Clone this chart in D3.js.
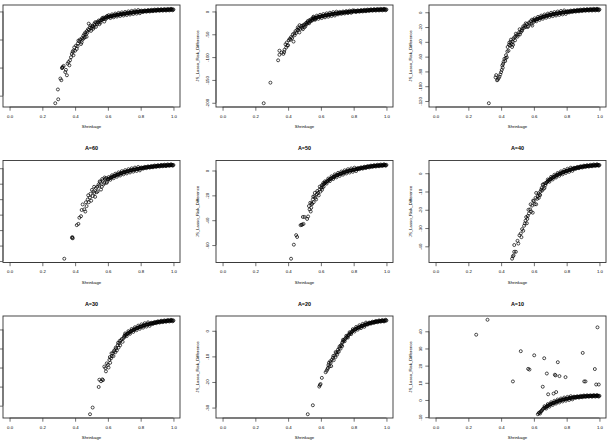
<!DOCTYPE html>
<html lang="en">
<head>
<meta charset="UTF-8">
<title>JS vs Lasso risk difference</title>
<script src="https://cdn.jsdelivr.net/npm/d3@7"></script>
<style>
  body { margin: 0; background: #fff; }
  svg { display: block; font-family: "Liberation Sans", Arial, Helvetica, sans-serif; }
</style>
</head>
<body>
<svg id="canvas"></svg>
<script>
// [shrinkage, JS_Lasso_Risk_Difference]
let ptsA90 = [
  [0.279,-163.5],[0.297,-156.5],[0.295,-139],[0.31,-119.5],[0.316,-122.5],[0.32,-101],[0.322,-100],[0.324,-99],[0.33,-97],
  [0.34,-108],[0.344,-104],[0.35,-113.7],[0.354,-93],[0.365,-96],[0.369,-87],[0.375,-81.5],[0.38,-75.6],[0.389,-69.7],
  [0.395,-64],[0.40,-70],[0.405,-61],[0.41,-66.8],[0.417,-57],[0.426,-53],[0.43,-50],[0.436,-58],[0.44,-55],[0.442,-47.5],
  [0.45,-43.4],[0.456,-40.4],[0.46,-46],[0.462,-37.5],[0.47,-45],[0.475,-38],[0.479,-31.6],[0.483,-21.7],[0.49,-28.7],
  [0.497,-34.6],[0.5,-30],[0.507,-25.8],[0.51,-31],[0.517,-21.7],[0.52,-24],[0.527,-27.5],[0.53,-20],[0.538,-18.2],
  [0.545,-16],[0.548,-22.8],[0.555,-20],[0.558,-15.8],[0.565,-12],[0.568,-14],[0.575,-13],[0.578,-18],[0.585,-14],
  [0.589,-10],[0.595,-8],
  [0.36,-90],[0.385,-72],[0.39,-78],[0.415,-62],[0.42,-52],[0.445,-50],[0.452,-48],[0.465,-41],[0.472,-35],[0.485,-33],
  [0.493,-25],[0.503,-27],[0.513,-28],[0.523,-19],[0.533,-23],[0.542,-20],[0.552,-17],[0.562,-15],[0.572,-11],[0.582,-11],
  [0.592,-12],
  [0.60,-10],[0.61,-9.2],[0.62,-8.5],[0.63,-7.8],[0.64,-7.1],[0.65,-6.4],[0.66,-5.9],[0.67,-5.4],[0.68,-4.9],[0.69,-4.5],
  [0.70,-4.1],[0.71,-3.6],[0.72,-3.1],[0.73,-2.7],[0.74,-2.2],[0.75,-1.8],[0.76,-1.4],[0.77,-1.0],[0.78,-0.7],[0.79,-0.3],
  [0.80,0],[0.81,0.2],[0.82,0.5],[0.83,0.7],[0.84,1.0],[0.85,1.2],[0.86,1.4],[0.87,1.7],[0.88,1.9],[0.89,2.1],
  [0.90,2.3],[0.91,2.4],[0.92,2.5],[0.93,2.7],[0.94,2.8],[0.95,2.9],[0.96,3.0],[0.97,3.1],[0.98,3.3],[0.99,3.4],[1.00,3.5],
  [0.605,-6.6],[0.615,-11.8],[0.625,-5.2],[0.635,-10.4],[0.645,-3.8],[0.655,-9.1],[0.665,-2.6],[0.675,-8.1],[0.685,-1.7],
  [0.695,-7.3],[0.705,-0.9],[0.715,-6.4],[0.725,0.1],[0.735,-5.5],[0.745,1.0],[0.755,-4.6],[0.765,1.8],[0.775,-3.9],
  [0.785,2.5],[0.795,-3.2],
  [0.805,1.5],[0.815,-1.05],[0.825,2.0],[0.835,-0.55],[0.845,2.5],[0.855,-0.1],[0.865,2.95],[0.875,0.4],[0.885,3.4],
  [0.895,0.8],[0.905,3.75],[0.915,1.05],[0.925,4.0],[0.935,1.35],[0.945,4.25],[0.955,1.55],[0.965,4.45],[0.975,1.8],
  [0.985,4.75],[0.995,2.05],
  [0.605,-9.6],[0.615,-8.8],[0.625,-8.1],[0.635,-7.4],[0.645,-6.7],[0.655,-6.1],[0.665,-5.6],[0.675,-5.1],[0.685,-4.7],
  [0.695,-4.3],[0.705,-3.8],[0.715,-3.3],[0.725,-2.9],[0.735,-2.4],[0.745,-2.0],[0.755,-1.6],[0.765,-1.2],[0.775,-0.8],
  [0.785,-0.5],[0.795,-0.1],[0.805,0.1],[0.815,0.3],[0.825,0.6],[0.835,0.8],[0.845,1.1],[0.855,1.3],[0.865,1.5],
  [0.875,1.8],[0.885,2.0],[0.895,2.2],[0.905,2.3],[0.915,2.5],[0.925,2.6],[0.935,2.7],[0.945,2.8],[0.955,2.9],
  [0.965,3.0],[0.975,3.2],[0.985,3.3],[0.995,3.4]
]
let ptsA80 = [
  [0.251,-201],[0.292,-156],[0.339,-107],[0.347,-95],[0.347,-86],[0.371,-93],[0.376,-89],[0.378,-84],[0.388,-79],[0.384,-72],
  [0.392,-68],[0.40,-74],[0.404,-63],[0.41,-60],[0.418,-56],[0.425,-58],[0.433,-66],[0.429,-50],[0.44,-52],[0.445,-43],
  [0.45,-47],[0.459,-35],[0.462,-41],[0.469,-46],[0.475,-38],[0.48,-32],[0.485,-36],[0.49,-39],[0.495,-30],[0.50,-28],
  [0.505,-33],[0.51,-25],[0.515,-27],[0.52,-21],[0.525,-24],[0.53,-19],[0.535,-22],[0.54,-17],[0.545,-20],
  [0.36,-90],[0.395,-75],[0.415,-62],[0.438,-48],[0.455,-40],[0.465,-37],[0.47,-30],[0.488,-31],[0.498,-35],[0.508,-29],
  [0.518,-24],[0.528,-26],[0.538,-20],[0.548,-19],[0.553,-13],[0.563,-17],
  [0.55,-16],[0.56,-14.8],[0.57,-13.7],[0.58,-12.7],[0.59,-11.8],[0.60,-10.9],[0.61,-10.1],[0.62,-9.3],[0.63,-8.5],
  [0.64,-7.8],[0.65,-7.1],[0.66,-6.4],[0.67,-5.8],[0.68,-5.2],[0.69,-4.6],[0.70,-4.1],[0.71,-3.6],[0.72,-3.1],[0.73,-2.6],
  [0.74,-2.2],[0.75,-1.8],[0.76,-1.4],[0.77,-1.0],[0.78,-0.6],[0.79,-0.3],[0.80,0],[0.81,0.3],[0.82,0.6],[0.83,0.9],
  [0.84,1.2],[0.85,1.5],[0.86,1.8],[0.87,2.0],[0.88,2.3],[0.89,2.6],[0.90,2.9],[0.91,3.1],[0.92,3.3],[0.93,3.5],
  [0.94,3.6],[0.95,3.8],[0.96,3.9],[0.97,4.0],[0.98,4.1],[0.99,4.2],[1.00,4.3],
  [0.555,-11.4],[0.565,-18.2],[0.575,-9.2],[0.585,-16.2],[0.595,-7.3],[0.605,-14.5],[0.615,-5.7],[0.625,-12.9],
  [0.635,-4.2],[0.645,-11.5],[0.655,-2.8],[0.665,-10.1],[0.675,-1.5],[0.685,-8.9],[0.695,-0.4],[0.705,-6.4],
  [0.715,-0.9],[0.725,-5.4],[0.735,-0.1],[0.745,-4.5],[0.755,0.9],[0.765,-3.7],[0.775,1.7],[0.785,-3.0],[0.795,2.4],
  [0.805,1.85],[0.815,-1.25],[0.825,2.45],[0.835,-0.65],[0.845,3.05],[0.855,-0.05],[0.865,3.6],[0.875,0.45],[0.885,4.15],
  [0.895,1.05],[0.905,4.7],[0.915,1.5],[0.925,5.1],[0.935,1.85],[0.945,5.4],[0.955,2.15],[0.965,5.65],[0.975,2.35],
  [0.985,5.85],[0.995,2.55],
  [0.555,-15.4],[0.565,-14.2],[0.575,-13.2],[0.585,-12.2],[0.595,-11.3],[0.605,-10.5],[0.615,-9.7],[0.625,-8.9],
  [0.635,-8.1],[0.645,-7.4],[0.655,-6.7],[0.665,-6.1],[0.675,-5.5],[0.685,-4.9],[0.695,-4.3],[0.705,-3.8],[0.715,-3.3],
  [0.725,-2.8],[0.735,-2.4],[0.745,-2.0],[0.755,-1.6],[0.765,-1.2],[0.775,-0.8],[0.785,-0.4],[0.795,-0.1],[0.805,0.1],
  [0.815,0.4],[0.825,0.7],[0.835,1.0],[0.845,1.3],[0.855,1.6],[0.865,1.9],[0.875,2.1],[0.885,2.4],[0.895,2.7],
  [0.905,3.0],[0.915,3.2],[0.925,3.4],[0.935,3.5],[0.945,3.7],[0.955,3.8],[0.965,3.9],[0.975,4.0],[0.985,4.1],[0.995,4.2]
]
let ptsA70 = [
  [0.325,-123],[0.366,-88],[0.37,-85],[0.375,-92],[0.38,-91],[0.385,-89],[0.39,-87],[0.40,-81],[0.404,-78],[0.407,-72],
  [0.41,-75],[0.415,-67],[0.42,-63],[0.425,-66],[0.43,-58],[0.435,-61],[0.44,-47],[0.445,-52],[0.45,-41],[0.455,-45],
  [0.46,-37],[0.465,-43],[0.467,-47],[0.47,-40],[0.475,-36],[0.48,-34],[0.485,-38],[0.49,-29],[0.495,-31],[0.50,-33],
  [0.51,-27],[0.515,-30],[0.52,-27],[0.525,-24],[0.53,-22],[0.54,-21],[0.545,-18],[0.55,-20],[0.557,-16],[0.565,-19],
  [0.57,-14],[0.58,-12],[0.585,-16],[0.59,-18],[0.595,-11],[0.60,-13],
  [0.395,-84],[0.412,-70],[0.428,-62],[0.438,-53],[0.448,-44],[0.458,-40],[0.473,-44],[0.488,-33],[0.505,-30],[0.513,-23],
  [0.528,-25],[0.535,-19],[0.55,-15],[0.562,-20],[0.575,-15],[0.588,-10],
  [0.60,-11.2],[0.61,-10.2],[0.62,-9.2],[0.63,-8.3],[0.64,-7.4],[0.65,-6.6],[0.66,-5.9],[0.67,-5.2],[0.68,-4.6],[0.69,-4.0],
  [0.70,-3.5],[0.71,-3.0],[0.72,-2.5],[0.73,-2.1],[0.74,-1.7],[0.75,-1.3],[0.76,-0.9],[0.77,-0.6],[0.78,-0.2],[0.79,0.1],
  [0.80,0.4],[0.81,0.7],[0.82,1.0],[0.83,1.3],[0.84,1.5],[0.85,1.8],[0.86,2.0],[0.87,2.2],[0.88,2.4],[0.89,2.6],
  [0.90,2.8],[0.91,2.9],[0.92,3.1],[0.93,3.2],[0.94,3.3],[0.95,3.4],[0.96,3.5],[0.97,3.5],[0.98,3.6],[0.99,3.6],[1.00,3.7],
  [0.605,-8.2],[0.615,-12.2],[0.625,-6.25],[0.635,-10.35],[0.645,-4.5],[0.655,-8.75],[0.665,-3.05],[0.675,-7.4],
  [0.685,-1.8],[0.695,-6.25],[0.705,-0.75],[0.715,-5.25],[0.725,0.2],[0.735,-4.4],[0.745,1.0],[0.755,-3.6],
  [0.765,1.75],[0.775,-2.9],[0.785,2.45],[0.795,-2.25],
  [0.805,1.65],[0.815,-0.25],[0.825,2.25],[0.835,0.3],[0.845,2.75],[0.855,0.8],[0.865,3.2],[0.875,1.2],[0.885,3.6],
  [0.895,1.6],[0.905,3.95],[0.915,1.9],[0.925,4.25],[0.935,2.15],[0.945,4.45],[0.955,2.35],[0.965,4.6],[0.975,2.45],
  [0.985,4.7],[0.995,2.55],
  [0.605,-10.7],[0.615,-9.7],[0.625,-8.7],[0.635,-7.8],[0.645,-7.0],[0.655,-6.2],[0.665,-5.5],[0.675,-4.9],[0.685,-4.3],
  [0.695,-3.7],[0.705,-3.2],[0.715,-2.7],[0.725,-2.3],[0.735,-1.9],[0.745,-1.5],[0.755,-1.1],[0.765,-0.7],[0.775,-0.4],
  [0.785,0.0],[0.795,0.2],[0.805,0.5],[0.815,0.8],[0.825,1.1],[0.835,1.4],[0.845,1.6],[0.855,1.9],[0.865,2.1],
  [0.875,2.3],[0.885,2.5],[0.895,2.7],[0.905,2.8],[0.915,3.0],[0.925,3.1],[0.935,3.2],[0.945,3.3],[0.955,3.4],
  [0.965,3.5],[0.975,3.5],[0.985,3.6],[0.995,3.6]
]
let ptsA60 = [
  [0.334,-58.5],[0.381,-45],[0.383,-44.5],[0.386,-45.3],[0.41,-36.8],[0.42,-36],[0.426,-32],[0.436,-31],[0.446,-23.4],
  [0.456,-26.6],[0.462,-28],[0.47,-24.5],[0.477,-20.2],[0.483,-22],[0.49,-19],[0.498,-21],[0.507,-18],[0.512,-15],
  [0.517,-16],[0.522,-18.5],[0.527,-12.8],[0.532,-15.5],[0.538,-14.9],[0.543,-10.5],[0.548,-11.3],[0.553,-9],[0.558,-13.8],
  [0.563,-12],[0.568,-8],[0.573,-10.5],[0.578,-9.6],[0.583,-7],[0.589,-6.4],[0.595,-8.8],
  [0.44,-27],[0.466,-22],[0.48,-17.5],[0.494,-16.5],[0.503,-14],[0.516,-12],[0.535,-12],[0.55,-8.5],[0.565,-7],[0.58,-6],
  [0.592,-9.5],
  [0.60,-7.2],[0.61,-6.6],[0.62,-6.0],[0.63,-5.5],[0.64,-5.0],[0.65,-4.5],[0.66,-4.1],[0.67,-3.7],[0.68,-3.3],[0.69,-2.9],
  [0.70,-2.6],[0.71,-2.3],[0.72,-2.0],[0.73,-1.7],[0.74,-1.4],[0.75,-1.1],[0.76,-0.9],[0.77,-0.7],[0.78,-0.5],[0.79,-0.3],
  [0.80,-0.1],[0.81,0.1],[0.82,0.3],[0.83,0.5],[0.84,0.6],[0.85,0.8],[0.86,0.9],[0.87,1.0],[0.88,1.2],[0.89,1.3],
  [0.90,1.4],[0.91,1.5],[0.92,1.6],[0.93,1.7],[0.94,1.8],[0.95,1.8],[0.96,1.9],[0.97,2.0],[0.98,2.0],[0.99,2.1],[1.00,2.1],
  [0.605,-5.7],[0.615,-7.5],[0.625,-4.55],[0.635,-6.45],[0.645,-3.55],[0.655,-5.5],[0.665,-2.7],[0.675,-4.7],
  [0.685,-1.9],[0.695,-3.95],[0.705,-1.25],[0.715,-3.35],[0.725,-0.65],[0.735,-2.75],[0.745,-0.05],[0.755,-2.2],
  [0.765,0.4],[0.775,-1.8],[0.785,0.8],[0.795,-1.4],
  [0.805,0.5],[0.815,-0.3],[0.825,0.9],[0.835,0.05],[0.845,1.2],[0.855,0.35],[0.865,1.45],[0.875,0.6],[0.885,1.75],
  [0.895,0.85],[0.905,1.95],[0.915,1.05],[0.925,2.15],[0.935,1.25],[0.945,2.3],[0.955,1.35],[0.965,2.45],[0.975,1.5],
  [0.985,2.55],[0.995,1.6],
  [0.605,-6.9],[0.615,-6.3],[0.625,-5.7],[0.635,-5.2],[0.645,-4.7],[0.655,-4.3],[0.665,-3.9],[0.675,-3.5],[0.685,-3.1],
  [0.695,-2.7],[0.705,-2.4],[0.715,-2.1],[0.725,-1.8],[0.735,-1.5],[0.745,-1.2],[0.755,-1.0],[0.765,-0.8],[0.775,-0.6],
  [0.785,-0.4],[0.795,-0.2],[0.805,0.0],[0.815,0.2],[0.825,0.4],[0.835,0.5],[0.845,0.7],[0.855,0.8],[0.865,0.9],
  [0.875,1.1],[0.885,1.2],[0.895,1.3],[0.905,1.4],[0.915,1.5],[0.925,1.6],[0.935,1.7],[0.945,1.8],[0.955,1.8],
  [0.965,1.9],[0.975,2.0],[0.985,2.0],[0.995,2.1]
]
let ptsA50 = [
  [0.418,-71],[0.435,-59.7],[0.449,-52],[0.455,-53.5],[0.476,-44],[0.482,-43.8],[0.486,-43.5],[0.494,-43],[0.49,-37.4],
  [0.50,-37.4],[0.516,-39],[0.522,-37],[0.527,-28.6],[0.531,-31.3],[0.535,-26],[0.538,-33],[0.541,-30],[0.546,-27],
  [0.551,-23.3],[0.556,-25.5],[0.561,-20.7],[0.566,-22],[0.571,-23.3],[0.576,-19],[0.582,-18],[0.587,-20],[0.592,-15.4],
  [0.597,-17],[0.602,-14],[0.607,-15.5],[0.612,-11.4],[0.617,-13],
  [0.543,-26.5],[0.553,-21],[0.563,-18],[0.578,-16.5],[0.593,-13],[0.605,-12],[0.61,-13.5],[0.615,-10],
  [0.62,-10.8],[0.63,-9.6],[0.64,-8.5],[0.65,-7.5],[0.66,-6.6],[0.67,-5.8],[0.68,-5.0],[0.69,-4.3],[0.70,-3.7],[0.71,-3.1],
  [0.72,-2.6],[0.73,-2.1],[0.74,-1.6],[0.75,-1.1],[0.76,-0.7],[0.77,-0.3],[0.78,0.0],[0.79,0.3],[0.80,0.6],[0.81,0.9],
  [0.82,1.2],[0.83,1.5],[0.84,1.8],[0.85,2.0],[0.86,2.3],[0.87,2.5],[0.88,2.8],[0.89,3.0],[0.90,3.2],[0.91,3.4],
  [0.92,3.6],[0.93,3.7],[0.94,3.9],[0.95,4.0],[0.96,4.1],[0.97,4.2],[0.98,4.3],[0.99,4.4],[1.00,4.5],
  [0.625,-8.7],[0.635,-10.55],[0.645,-6.5],[0.655,-8.55],[0.665,-4.7],[0.675,-6.9],[0.685,-3.15],[0.695,-5.5],
  [0.705,-1.9],[0.715,-4.35],[0.725,-0.85],[0.735,-3.35],[0.745,0.15],[0.755,-2.4],[0.765,1.0],[0.775,-1.65],
  [0.785,1.65],[0.795,-1.05],[0.805,2.25],[0.815,-0.45],
  [0.825,2.0],[0.835,1.0],[0.845,2.55],[0.855,1.5],[0.865,3.05],[0.875,2.0],[0.885,3.55],[0.895,2.45],[0.905,3.95],
  [0.915,2.85],[0.925,4.3],[0.935,3.15],[0.945,4.6],[0.955,3.4],[0.965,4.8],[0.975,3.6],[0.985,5.0],[0.995,3.8],
  [0.625,-10.2],[0.635,-9.0],[0.645,-8.0],[0.655,-7.0],[0.665,-6.2],[0.675,-5.4],[0.685,-4.6],[0.695,-4.0],[0.705,-3.4],
  [0.715,-2.8],[0.725,-2.3],[0.735,-1.8],[0.745,-1.3],[0.755,-0.9],[0.765,-0.5],[0.775,-0.1],[0.785,0.1],[0.795,0.4],
  [0.805,0.7],[0.815,1.0],[0.825,1.3],[0.835,1.6],[0.845,1.9],[0.855,2.1],[0.865,2.4],[0.875,2.6],[0.885,2.9],
  [0.895,3.1],[0.905,3.3],[0.915,3.5],[0.925,3.6],[0.935,3.8],[0.945,3.9],[0.955,4.0],[0.965,4.1],[0.975,4.2],
  [0.985,4.3],[0.995,4.4]
]
let ptsA40 = [
  [0.467,-46.8],[0.472,-45.5],[0.476,-45],[0.48,-43],[0.49,-43],[0.48,-39.3],[0.50,-37],[0.505,-38.5],[0.512,-34],[0.52,-33],
  [0.524,-35],[0.528,-30.6],[0.535,-31.5],[0.54,-28.8],[0.545,-27.5],[0.549,-26],[0.557,-27.4],[0.56,-25],[0.563,-23.4],
  [0.57,-22],[0.577,-19.8],[0.583,-21],[0.589,-17.7],[0.593,-21.6],[0.60,-15.3],[0.605,-17],[0.614,-17],[0.614,-10.8],
  [0.62,-14],[0.624,-12.6],[0.63,-13.5],[0.634,-11.7],[0.64,-10],[0.644,-9],[0.65,-9.5],[0.654,-6.3],[0.66,-8.5],
  [0.665,-8],[0.67,-6.5],[0.675,-5.4],
  [0.553,-24],[0.567,-20],[0.58,-17],[0.595,-15],[0.61,-13.5],[0.628,-11],[0.638,-12],[0.648,-8],[0.658,-6],[0.668,-5.5],
  [0.68,-4.8],[0.69,-4.0],[0.70,-3.3],[0.71,-2.7],[0.72,-2.1],[0.73,-1.6],[0.74,-1.1],[0.75,-0.6],[0.76,-0.2],[0.77,0.2],
  [0.78,0.6],[0.79,1.0],[0.80,1.3],[0.81,1.6],[0.82,1.9],[0.83,2.2],[0.84,2.4],[0.85,2.7],[0.86,2.9],[0.87,3.1],
  [0.88,3.3],[0.89,3.5],[0.90,3.6],[0.91,3.8],[0.92,3.9],[0.93,4.0],[0.94,4.1],[0.95,4.2],[0.96,4.3],[0.97,4.4],
  [0.98,4.4],[0.99,4.5],[1.00,4.5],
  [0.685,-3.4],[0.695,-4.65],[0.705,-2.0],[0.715,-3.4],[0.725,-0.85],[0.735,-2.35],[0.745,0.15],[0.755,-1.4],
  [0.765,1.0],[0.775,-0.6],[0.785,1.8],[0.795,0.15],[0.805,2.45],[0.815,0.75],[0.825,3.05],[0.835,1.3],
  [0.845,3.0],[0.855,2.35],[0.865,3.45],[0.875,2.75],[0.885,3.85],[0.895,3.1],[0.905,4.15],[0.915,3.4],
  [0.925,4.4],[0.935,3.6],[0.945,4.6],[0.955,3.8],[0.965,4.8],[0.975,3.95],[0.985,4.9],[0.995,4.05],
  [0.685,-4.4],[0.695,-3.6],[0.705,-3.0],[0.715,-2.4],[0.725,-1.8],[0.735,-1.3],[0.745,-0.8],[0.755,-0.4],[0.765,0.0],
  [0.775,0.4],[0.785,0.8],[0.795,1.1],[0.805,1.4],[0.815,1.7],[0.825,2.0],[0.835,2.3],[0.845,2.5],[0.855,2.8],
  [0.865,3.0],[0.875,3.2],[0.885,3.4],[0.895,3.5],[0.905,3.7],[0.915,3.8],[0.925,3.9],[0.935,4.0],[0.945,4.1],
  [0.955,4.2],[0.965,4.3],[0.975,4.4],[0.985,4.4],[0.995,4.5]
]
let ptsA30 = [
  [0.491,-44.5],[0.507,-41],[0.544,-30.2],[0.548,-26.4],[0.558,-27.2],[0.566,-26.2],[0.57,-26.6],[0.578,-19.5],[0.585,-20.3],
  [0.588,-22],[0.593,-17.8],[0.6,-18.6],[0.604,-20],[0.609,-16],[0.614,-17.5],[0.619,-15.2],[0.624,-14],[0.629,-12.6],
  [0.634,-14],[0.64,-10.9],[0.645,-12],[0.65,-10],[0.655,-11],[0.66,-8.3],[0.665,-9.5],[0.67,-7.2],[0.675,-8.3],
  [0.68,-5.7],[0.69,-6.5],[0.70,-4.0],
  [0.612,-14.5],[0.622,-12.5],[0.637,-11.5],[0.648,-9.5],[0.662,-7],[0.672,-6],[0.685,-5],[0.695,-4.6],
  [0.70,-3.4],[0.71,-2.8],[0.72,-2.2],[0.73,-1.6],[0.74,-1.0],[0.75,-0.5],[0.76,-0.1],[0.77,0.4],[0.78,0.8],[0.79,1.2],
  [0.80,1.5],[0.81,1.8],[0.82,2.1],[0.83,2.4],[0.84,2.6],[0.85,2.8],[0.86,3.0],[0.87,3.2],[0.88,3.4],[0.89,3.6],
  [0.90,3.8],[0.91,3.9],[0.92,4.1],[0.93,4.2],[0.94,4.3],[0.95,4.4],[0.96,4.5],[0.97,4.6],[0.98,4.6],[0.99,4.7],[1.00,4.7],
  [0.705,-2.1],[0.715,-3.5],[0.725,-0.9],[0.735,-2.3],[0.745,0.25],[0.755,-1.3],[0.765,1.15],[0.775,-0.4],
  [0.785,2.0],[0.795,0.35],[0.805,2.65],[0.815,0.95],[0.825,3.25],[0.835,1.5],[0.845,3.7],[0.855,1.9],
  [0.865,3.52],[0.875,2.88],[0.885,3.92],[0.895,3.28],[0.905,4.27],[0.915,3.58],[0.925,4.57],[0.935,3.83],
  [0.945,4.77],[0.955,4.03],[0.965,4.97],[0.975,4.18],[0.985,5.07],[0.995,4.28],
  [0.705,-3.1],[0.715,-2.5],[0.725,-1.9],[0.735,-1.3],[0.745,-0.7],[0.755,-0.3],[0.765,0.1],[0.775,0.6],[0.785,1.0],
  [0.795,1.3],[0.805,1.6],[0.815,1.9],[0.825,2.2],[0.835,2.5],[0.845,2.7],[0.855,2.9],[0.865,3.1],[0.875,3.3],
  [0.885,3.5],[0.895,3.7],[0.905,3.8],[0.915,4.0],[0.925,4.1],[0.935,4.2],[0.945,4.3],[0.955,4.4],[0.965,4.5],
  [0.975,4.6],[0.985,4.6],[0.995,4.7]
]
let ptsA20 = [
  [0.52,-32.6],[0.551,-29.1],[0.59,-21.8],[0.594,-21.2],[0.598,-20.8],[0.606,-18.4],[0.629,-16.2],[0.635,-15.6],[0.643,-14.5],
  [0.646,-13.4],[0.649,-12.5],[0.653,-13.9],[0.657,-11.9],[0.663,-13.8],[0.667,-11.3],[0.673,-10.6],[0.678,-11.5],
  [0.684,-9.7],[0.689,-10.3],[0.694,-8.7],[0.699,-9.3],[0.704,-7.4],[0.709,-8.2],[0.714,-6.1],[0.72,-7],[0.725,-5.5],[0.73,-6],
  [0.64,-15],[0.66,-12.5],[0.676,-9.8],[0.69,-8.3],[0.702,-8.3],[0.712,-6.8],[0.722,-5.8],
  [0.73,-4.6],[0.74,-3.8],[0.75,-3.0],[0.76,-2.3],[0.77,-1.6],[0.78,-0.9],[0.79,-0.3],[0.80,0.2],[0.81,0.6],[0.82,1.0],
  [0.83,1.3],[0.84,1.6],[0.85,1.9],[0.86,2.1],[0.87,2.4],[0.88,2.6],[0.89,2.8],[0.90,3.0],[0.91,3.2],[0.92,3.3],
  [0.93,3.5],[0.94,3.6],[0.95,3.7],[0.96,3.8],[0.97,3.9],[0.98,3.9],[0.99,4.0],[1.00,4.0],
  [0.735,-3.5],[0.745,-4.1],[0.755,-1.95],[0.765,-2.65],[0.775,-0.55],[0.785,-1.3],[0.795,0.65],[0.805,-0.3],
  [0.815,1.5],[0.825,0.45],[0.835,2.15],[0.845,1.05],[0.855,2.7],[0.865,1.55],[0.875,3.2],
  [0.885,2.4],[0.895,3.2],[0.905,2.8],[0.915,3.55],[0.925,3.1],[0.935,3.85],[0.945,3.35],[0.955,4.05],[0.965,3.55],
  [0.975,4.2],[0.985,3.65],[0.995,4.3],
  [0.735,-4.2],[0.745,-3.4],[0.755,-2.6],[0.765,-1.9],[0.775,-1.2],[0.785,-0.6],[0.795,0.0],[0.805,0.4],[0.815,0.8],
  [0.825,1.1],[0.835,1.4],[0.845,1.7],[0.855,2.0],[0.865,2.2],[0.875,2.5],[0.885,2.7],[0.895,2.9],[0.905,3.1],
  [0.915,3.2],[0.925,3.4],[0.935,3.5],[0.945,3.6],[0.955,3.7],[0.965,3.8],[0.975,3.9],[0.985,3.9],[0.995,4.0]
]
let ptsA10 = [
  [0.248,38],[0.317,46.7],[0.472,10.8],[0.52,28.4],[0.565,18.1],[0.573,17.7],[0.602,26],[0.654,7.7],[0.663,24.3],
  [0.679,15.4],[0.687,3.3],[0.72,3.7],[0.728,14.7],[0.732,14.3],[0.736,4.6],[0.746,22],[0.756,13.9],[0.793,13.3],
  [0.898,27.4],[0.907,10.8],[0.915,10.8],[0.972,18],[0.98,9],[0.996,9],[0.988,42.3],
  [0.624,-8.3],[0.63,-7.6],[0.634,-7.3],[0.638,-7.9],[0.642,-6.8],[0.646,-6.4],[0.65,-6.0],[0.654,-5.3],
  [0.66,-4.9],[0.67,-4.3],[0.68,-3.7],[0.69,-3.1],[0.70,-2.6],[0.71,-2.1],[0.72,-1.7],[0.73,-1.3],[0.74,-0.9],[0.75,-0.6],
  [0.76,-0.3],[0.77,0.0],[0.78,0.3],[0.79,0.5],[0.80,0.7],[0.81,0.9],[0.82,1.1],[0.83,1.3],[0.84,1.4],[0.85,1.6],
  [0.86,1.7],[0.87,1.8],[0.88,1.9],[0.89,2.0],[0.90,2.1],[0.91,2.2],[0.92,2.2],[0.93,2.3],[0.94,2.3],[0.95,2.3],
  [0.96,2.4],[0.97,2.4],[0.98,2.4],[0.99,2.4],[1.00,2.4],
  [0.665,-3.6],[0.675,-5.0],[0.685,-2.4],[0.695,-3.85],[0.705,-1.35],[0.715,-2.9],[0.725,-0.5],[0.735,-2.1],
  [0.745,0.25],[0.755,-1.45],[0.765,0.85],[0.775,-0.85],[0.785,1.4],[0.795,-0.4],[0.805,1.8],[0.815,0.0],
  [0.825,2.2],[0.835,0.35],
  [0.845,1.95],[0.855,1.2],[0.865,2.2],[0.875,1.4],[0.885,2.4],[0.895,1.6],[0.905,2.6],[0.915,1.75],
  [0.925,2.7],[0.935,1.85],[0.945,2.75],[0.955,1.9],[0.965,2.85],[0.975,1.95],[0.985,2.85],[0.995,1.95],
  [0.665,-4.6],[0.675,-4.0],[0.685,-3.4],[0.695,-2.8],[0.705,-2.3],[0.715,-1.9],[0.725,-1.5],[0.735,-1.1],[0.745,-0.7],
  [0.755,-0.4],[0.765,-0.1],[0.775,0.1],[0.785,0.4],[0.795,0.6],[0.805,0.8],[0.815,1.0],[0.825,1.2],[0.835,1.3],
  [0.845,1.5],[0.855,1.6],[0.865,1.7],[0.875,1.8],[0.885,1.9],[0.895,2.0],[0.905,2.1],[0.915,2.2],[0.925,2.2],
  [0.935,2.3],[0.945,2.3],[0.955,2.3],[0.965,2.4],[0.975,2.4],[0.985,2.4],[0.995,2.4]
]

let titles = ["A=90", "A=80", "A=70", "A=60", "A=50", "A=40", "A=30", "A=20", "A=10"]
let xTicks = [0, 0.2, 0.4, 0.6, 0.8, 1.0]
let yTicksA90 = [0, -50, -100, -150]
let yTicksA80 = [0, -50, -100, -150, -200]
let yTicksA70 = [0, -20, -40, -60, -80, -100, -120]
let yTicksA60 = [0, -10, -20, -30, -40, -50, -60]
let yTicksA50 = [0, -20, -40, -60]
let yTicksA40 = [0, -10, -20, -30, -40]
let yTicksA30 = [0, -10, -20, -30, -40]
let yTicksA20 = [0, -10, -20, -30]
let yTicksA10 = [40, 30, 20, 10, 0, -10]

let allPts = [ptsA90, ptsA80, ptsA70, ptsA60, ptsA50, ptsA40, ptsA30, ptsA20, ptsA10]
let allTicks = [yTicksA90, yTicksA80, yTicksA70, yTicksA60, yTicksA50, yTicksA40, yTicksA30, yTicksA20, yTicksA10]

let width = 609
let height = 448
// the figure is cut at the left and top edges, like the picture
let offX = 3
let offY = 5
let colStep = 213
let rowStep = 155.5
let boxW = 177
let boxH = 102
let small = 4.3
let fontName = '"Liberation Sans", Arial, Helvetica, sans-serif'

let svg = d3.select('#canvas').attr('width', width).attr('height', height)
svg.append('rect').attr('width', width).attr('height', height).attr('fill', '#fff')

let drawPanel = (i) => {
  let r = Math.floor(i / 3)
  let c = i % 3
  let left = offX + c * colStep
  let top = offY + r * rowStep
  let pts = allPts[i]
  let yTicks = allTicks[i]

  let xScale = d3.scaleLinear().domain([-0.04, 1.04]).range([left, left + boxW])
  let ext = d3.extent(pts, d => d[1])
  let pad = (ext[1] - ext[0]) * 0.04
  let yScale = d3.scaleLinear().domain([ext[0] - pad, ext[1] + pad]).range([top + boxH, top])

  let g = svg.append('g')

  g.selectAll('circle')
   .data(pts)
   .join('circle')
   .attr('cx', d => xScale(d[0]))
   .attr('cy', d => yScale(d[1]))
   .attr('r', 1.5)
   .attr('fill', 'none')
   .attr('stroke', '#000')
   .attr('stroke-width', 0.7)

  g.append('rect')
   .attr('x', left).attr('y', top)
   .attr('width', boxW).attr('height', boxH)
   .attr('fill', 'none').attr('stroke', '#333').attr('stroke-width', 0.9)

  let xAxis = d3.axisBottom(xScale)
                .tickValues(xTicks)
                .tickFormat(d => d.toFixed(1))
                .tickSize(3.7)
                .tickSizeOuter(0)
                .tickPadding(4.2)
  let gx = g.append('g')
            .attr('transform', 'translate(0,' + (top + boxH) + ')')
            .call(xAxis)
  gx.attr('font-size', small).attr('font-family', fontName)
  gx.select('.domain').attr('d', 'M' + xScale(xTicks[0]) + ',0H' + xScale(xTicks[xTicks.length - 1]))
  gx.selectAll('line').attr('stroke', '#333').attr('stroke-width', 0.7)
  gx.select('.domain').attr('stroke', '#333').attr('stroke-width', 0.7)

  let yAxis = d3.axisLeft(yScale)
                .tickValues(yTicks)
                .tickFormat(d => String(d))
                .tickSize(3.7)
                .tickSizeOuter(0)
  let gy = g.append('g')
            .attr('transform', 'translate(' + left + ',0)')
            .call(yAxis)
  gy.attr('font-size', small).attr('font-family', fontName)
  gy.select('.domain').attr('d', 'M0,' + yScale(yTicks[0]) + 'V' + yScale(yTicks[yTicks.length - 1]))
  gy.selectAll('line').attr('stroke', '#333').attr('stroke-width', 0.7)
  gy.select('.domain').attr('stroke', '#333').attr('stroke-width', 0.7)
  if (c === 0) {
    // these labels fall outside the cut picture
    gy.selectAll('text').remove()
  } else {
    gy.selectAll('text')
      .attr('x', 0).attr('dy', 0)
      .attr('text-anchor', 'middle')
      .attr('transform', 'translate(-7.3,0) rotate(-90)')
  }

  g.append('text')
   .attr('x', left + boxW / 2)
   .attr('y', top + boxH + 21)
   .attr('text-anchor', 'middle')
   .attr('font-family', fontName)
   .attr('font-size', small)
   .text('Shrinkage')

  if (c > 0) {
    g.append('text')
     .attr('transform', 'translate(' + (left - 17) + ',' + (top + boxH / 2) + ') rotate(-90)')
     .attr('text-anchor', 'middle')
     .attr('font-family', fontName)
     .attr('font-size', small)
     .text('JS_Lasso_Risk_Difference')
  }

  if (r > 0) {
    g.append('text')
     .attr('x', left + boxW / 2)
     .attr('y', top - 10.2)
     .attr('text-anchor', 'middle')
     .attr('font-family', fontName)
     .attr('font-size', 5.4)
     .attr('font-weight', 'bold')
     .text(titles[i])
  }
}

titles.forEach((t, i) => drawPanel(i))
</script>
</body>
</html>
